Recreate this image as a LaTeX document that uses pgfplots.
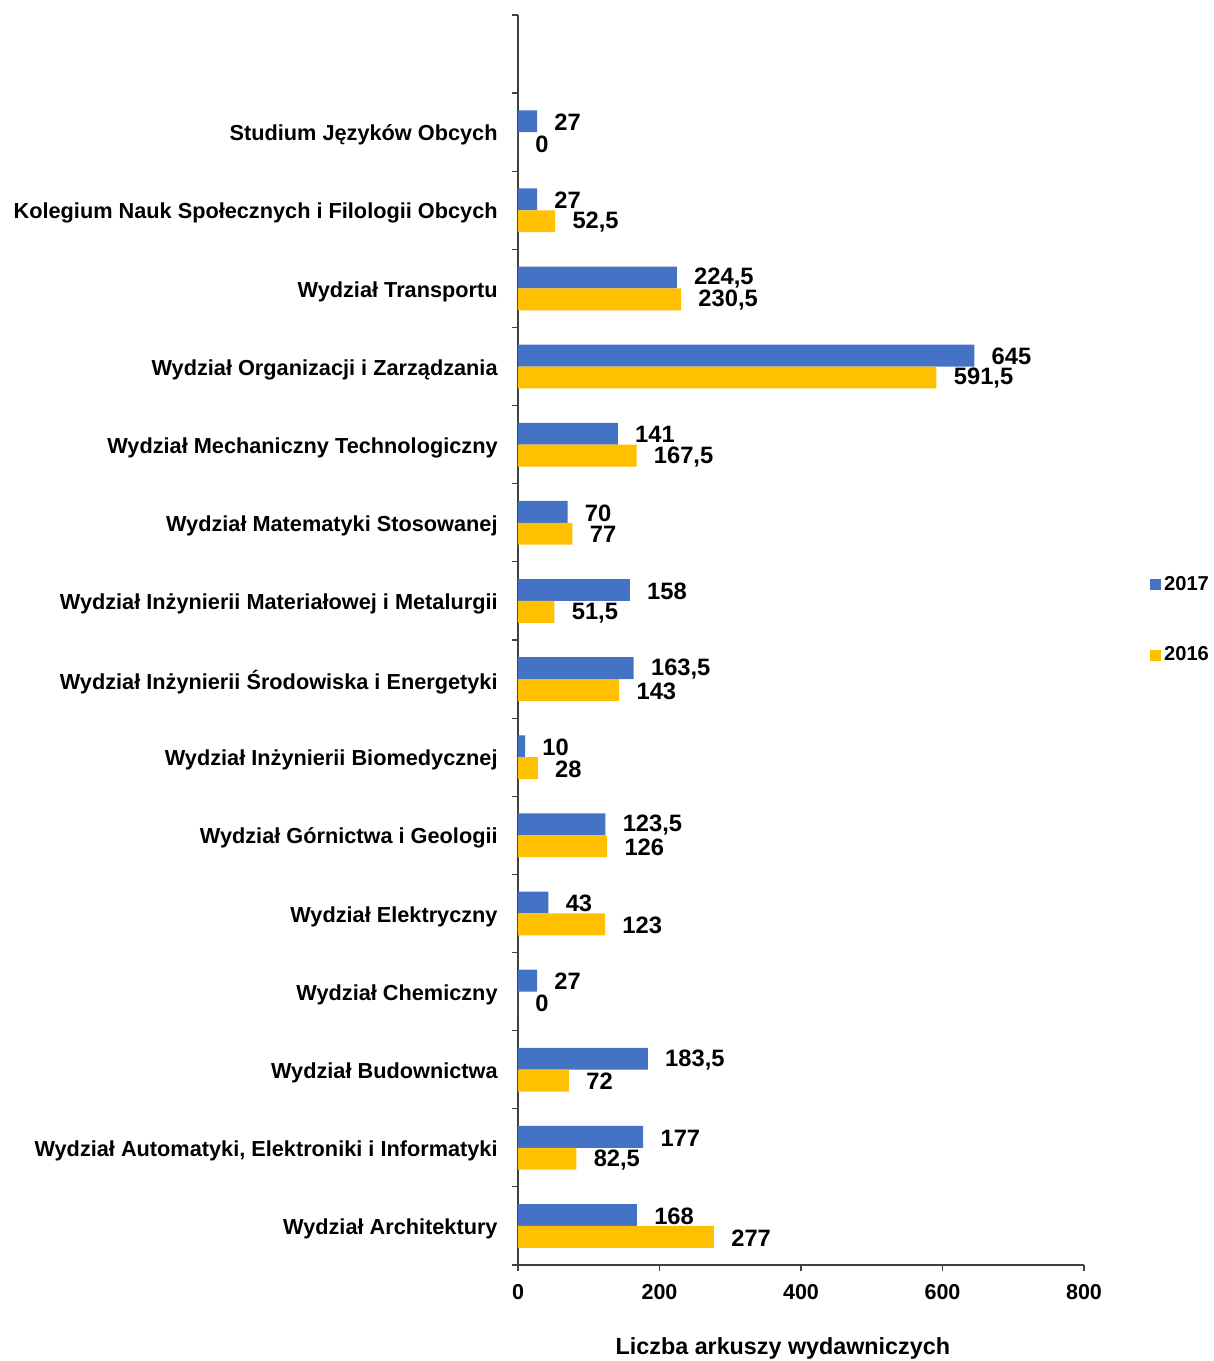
\documentclass[border=0pt]{standalone}
\usepackage{fontspec}
\setmainfont{Liberation Sans}
\usepackage{pgfplots}
\pgfplotsset{compat=1.18}
\definecolor{blu}{HTML}{4472C4}
\definecolor{yel}{HTML}{FFC000}
\begin{document}
\begin{tikzpicture}[x=1bp,y=1bp]
\useasboundingbox (-259,-48) rectangle (348,632.5);
\begin{axis}[
  at={(0,0)}, anchor=south west,
  scale only axis, width=283bp, height=625bp,
  xmin=0, xmax=800, ymin=-0.5, ymax=15.5,
  axis lines=left,
  axis line style={-, black!75, line width=0.6bp},
  every tick/.style={black!75, line width=0.6bp},
  tick align=outside,
  major tick length=0pt, minor tick length=3bp,
  xtick={0,200,...,800}, minor xtick={0,200,...,800},
  ytick={0,...,14}, minor ytick={-0.5,0.5,...,15.5},
  yticklabels={Wydział Architektury,{Wydział Automatyki, Elektroniki i Informatyki},Wydział Budownictwa,Wydział Chemiczny,Wydział Elektryczny,Wydział Górnictwa i Geologii,Wydział Inżynierii Biomedycznej,Wydział Inżynierii Środowiska i Energetyki,Wydział Inżynierii Materiałowej i Metalurgii,Wydział Matematyki Stosowanej,Wydział Mechaniczny Technologiczny,Wydział Organizacji i Zarządzania,Wydział Transportu,Kolegium Nauk Społecznych i Filologii Obcych,Studium Języków Obcych},
  yticklabel style={font=\fontsize{10.9}{13}\selectfont\bfseries, anchor=east, inner sep=0pt, xshift=-10bp, yshift=-1.5bp},
  xticklabel style={font=\fontsize{10.8}{13}\selectfont\bfseries, anchor=north, inner sep=0pt, yshift=-9.5bp},
  /pgf/number format/assume math mode=true,
  /pgf/number format/use comma,
  /pgf/number format/1000 sep={},
  xlabel={Liczba arkuszy wydawniczych},
  xlabel style={font=\fontsize{11.7}{14}\selectfont\bfseries, at={(axis description cs:0.468,0)}, anchor=center, yshift=-41.5bp},
  xbar, bar width=0.28,
  point meta=x,
  nodes near coords,
  nodes near coords style={font=\fontsize{11.9}{14}\selectfont\bfseries, anchor=west, inner sep=0pt, xshift=8.5bp, yshift=-0.5bp, black},
  legend style={at={(1.1155,0.516)}, anchor=west, draw=none, fill=none, font=\fontsize{10.1}{11}\selectfont\bfseries, row sep=25bp, inner sep=0pt, nodes={inner sep=0.8bp}},
  legend image code/.code={\fill (0bp,-2.75bp) rectangle (5.5bp,2.75bp);},
  legend cell align=left,
]
\addplot[fill=blu, draw=none, bar shift=0.14] coordinates {
(168,0) (177,1) (183.5,2) (27,3) (43,4) (123.5,5) (10,6) (163.5,7) (158,8) (70,9) (141,10) (645,11) (224.5,12) (27,13) (27,14)};
\addlegendentry{\hspace{0.9bp}2017}
\addplot[fill=yel, draw=none, bar shift=-0.14] coordinates {
(277,0) (82.5,1) (72,2) (0,3) (123,4) (126,5) (28,6) (143,7) (51.5,8) (77,9) (167.5,10) (591.5,11) (230.5,12) (52.5,13) (0,14)};
\addlegendentry{\hspace{0.9bp}2016}
\end{axis}
\end{tikzpicture}
\end{document}
